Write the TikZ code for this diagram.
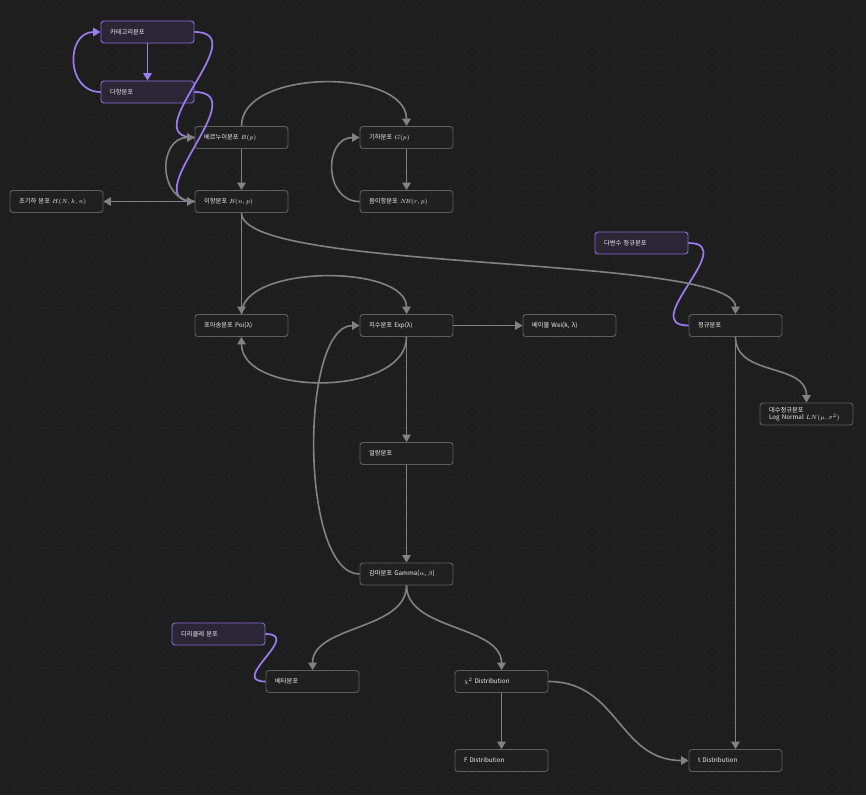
\documentclass[tikz,border=0pt]{standalone}
\usepackage{fontspec}
\setmainfont{Noto Sans CJK KR}
\usetikzlibrary{arrows.meta}
\definecolor{bgc}{HTML}{1E1E1E}
\definecolor{dotc}{HTML}{353535}
\definecolor{gfill}{HTML}{202020}
\definecolor{gborder}{HTML}{5E5E5E}
\definecolor{pfill}{HTML}{2A2636}
\definecolor{pborder}{HTML}{8A6CD8}
\definecolor{gline}{HTML}{828282}
\definecolor{pline}{HTML}{9B7CF2}
\definecolor{txt}{HTML}{F0F0F0}
\tikzset{
  box/.style={draw=gborder, fill=gfill, rounded corners=3pt, line width=0.9pt,
    minimum width=93pt, minimum height=22pt, text width=75pt, align=left,
    inner xsep=9pt, inner ysep=2pt, font=\fontsize{6.3}{7.6}\selectfont, text=txt},
  pbox/.style={box, draw=pborder, fill=pfill},
  gedge/.style={draw=gline, line width=1.6pt, -{Triangle[length=7.5pt,width=8.5pt]}},
  gboth/.style={draw=gline, line width=1.6pt, {Triangle[length=7.5pt,width=8.5pt]}-{Triangle[length=7.5pt,width=8.5pt]}},
  pedge/.style={draw=pline, line width=1.7pt, -{Triangle[length=7.5pt,width=8.5pt]}},
  pplain/.style={draw=pline, line width=1.7pt}
}
\begin{document}
\begin{tikzpicture}[x=1pt,y=-1pt]
\fill[bgc] (0,0) rectangle (866,795);
\useasboundingbox (0,0) rectangle (866,795);
\foreach \i in {0,...,57}{\foreach \j in {0,...,52}{\fill[dotc] (14.3+15*\i,7.7+15*\j) circle (0.6);}}

% nodes
\node[pbox] (cat) at (147.5,32) {카테고리분포};
\node[pbox] (multi) at (147.5,92) {다항분포};
\node[box] (bern) at (241.5,137.5) {베르누이분포 $B(p)$};
\node[box] (bin) at (241.5,201.5) {이항분포 $B(n,p)$};
\node[box] (hyper) at (56.5,201.5) {초기하 분포 $H(N,k,n)$};
\node[box] (geo) at (406.5,137.5) {기하분포 $G(p)$};
\node[box] (nb) at (406.5,201.5) {음이항분포 $N\!B(r,p)$};
\node[pbox] (mvn) at (641.5,243) {다변수 정규분포};
\node[box] (norm) at (735.5,325.5) {정규분포};
\node[box, inner ysep=1pt] (lognorm) at (806.5,414) {대수정규분포\\Log Normal $LN(\mu,\sigma^2)$};
\node[box] (poi) at (241.5,325.5) {포아송분포 Poi(λ)};
\node[box] (exp) at (406.5,325.5) {지수분포 Exp(λ)};
\node[box] (wei) at (569.5,325.5) {베이불 Wei(k, λ)};
\node[box] (erl) at (406.5,453.5) {얼랑분포};
\node[box] (gam) at (406.5,574) {감마분포 Gamma($\alpha$, $\beta$)};
\node[pbox] (dir) at (218.5,634) {디리클레 분포};
\node[box] (beta) at (312.5,681.5) {베타분포};
\node[box] (chi) at (501.5,681.5) {$\chi^2$ Distribution};
\node[box] (fd) at (501.5,760.5) {F Distribution};
\node[box] (td) at (735.5,760.5) {t Distribution};

% purple edges
\draw[pedge] (cat) -- (multi);
\draw[pedge] (multi.west) .. controls +(-35,0) and +(-35,0) .. (cat.west);
\draw[pplain] (cat.east) .. controls +(62,0) and +(-62,0) .. (bern.west);
\draw[pplain] (multi.east) .. controls +(62,0) and +(-62,0) .. (bin.west);
\draw[pplain] (mvn.east) .. controls +(52,0) and +(-52,0) .. (norm.west);
\draw[pplain] (dir.east) .. controls +(38,0) and +(-38,0) .. (beta.west);

% gray edges
\draw[gedge] (bin.west) .. controls +(-37,0) and +(-37,0) .. (bern.west);
\draw[gboth] (hyper) -- (bin);
\draw[gedge] (bern) -- (bin);
\draw[gedge] (bern.north) .. controls +(0,-58) and +(0,-58) .. (geo.north);
\draw[gedge] (geo) -- (nb);
\draw[gedge] (nb.west) .. controls +(-36,0) and +(-36,0) .. (geo.west);
\draw[gedge] (bin) -- (poi);
\draw[gedge] (bin.south) .. controls +(0,60) and +(0,-60) .. (norm.north);
\draw[gedge] (poi.north) .. controls +(0,-50) and +(0,-50) .. (exp.north);
\draw[gedge] (exp.south) .. controls +(0,60) and +(0,60) .. (poi.south);
\draw[gedge] (exp) -- (wei);
\draw[gedge] (exp) -- (erl);
\draw[gedge] (erl) -- (gam);
\draw[gedge] (gam.west) .. controls +(-60,0) and +(-60,0) .. (exp.west);
\draw[gedge] (gam.south) .. controls +(0,45) and +(0,-45) .. (beta.north);
\draw[gedge] (gam.south) .. controls +(0,45) and +(0,-45) .. (chi.north);
\draw[gedge] (chi) -- (fd);
\draw[gedge] (chi.east) .. controls +(70,0) and +(-70,0) .. (td.west);
\draw[gedge] (norm) -- (td);
\draw[gedge] (norm.south) .. controls +(0,40) and +(0,-40) .. (lognorm.north);
\end{tikzpicture}
\end{document}
